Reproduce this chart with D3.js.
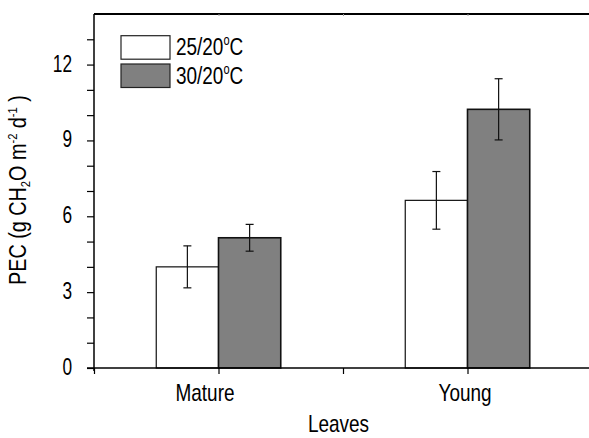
<!DOCTYPE html>
<html>
<head>
<meta charset="utf-8">
<script src="https://cdn.jsdelivr.net/npm/d3@7"></script>
<style>
  html, body { margin: 0; padding: 0; background: #fff; }
  svg { display: block; }
  text { font-family: "Liberation Sans", Arial, sans-serif; fill: #000; }
</style>
</head>
<body>
<svg id="chart" width="589" height="438"></svg>
<script>
// ---- data ----
const categories = ["Mature", "Young"];
const seriesNames = ["25/20", "30/20"];
const values25 = [4.0, 6.63];
const errors25 = [0.83, 1.14];
const values30 = [5.15, 10.23];
const errors30 = [0.53, 1.21];
const yTickLabels = [0, 3, 6, 9, 12];
const yMinorTicks = [0,1,2,3,4,5,6,7,8,9,10,11,12,13];
const xAxisLabel = "Leaves";

const seriesFill = ["#ffffff", "#808080"];

const svg = d3.select("#chart");
const W = 589, H = 438;
const SX = 0.79; // horizontal condensing of text

// condensed text helper
function ctext(parent, px, py, size, anchor, sx = SX, rot = 0) {
  const g = parent.append("g")
    .attr("transform", `translate(${px},${py})${rot ? ` rotate(${rot})` : ""} scale(${sx},1)`);
  return g.append("text").attr("font-size", size).attr("text-anchor", anchor);
}

const plotBottom = 368;
const x = d3.scaleLinear().domain([0, 4]).range([94, 592]);
const y = d3.scaleLinear().domain([0, 14]).range([plotBottom, 14]);
const catPos = [1, 3];
const barW = 0.5;

const series = [
  { name: seriesNames[0], vals: values25, errs: errors25, fill: seriesFill[0], off: -barW },
  { name: seriesNames[1], vals: values30, errs: errors30, fill: seriesFill[1], off: 0 }
];

// bars
series.forEach(s => {
  svg.append("g").selectAll("rect")
    .data(categories.map((c, i) => ({ c, i, v: s.vals[i], e: s.errs[i] })))
    .join("rect")
    .attr("x", d => x(catPos[d.i] + s.off))
    .attr("y", d => y(d.v))
    .attr("width", d => x(catPos[d.i] + s.off + barW) - x(catPos[d.i] + s.off))
    .attr("height", d => y(0) - y(d.v))
    .attr("fill", s.fill)
    .attr("stroke", "#111")
    .attr("stroke-width", s.fill === "#ffffff" ? 1.2 : 1.6);
});

// error bars
series.forEach(s => {
  const g = svg.append("g").attr("stroke", "#111").attr("stroke-width", 1.2);
  categories.forEach((c, i) => {
    const cx = x(catPos[i] + s.off + barW / 2);
    const top = y(s.vals[i] + s.errs[i]);
    const bot = y(s.vals[i] - s.errs[i]);
    g.append("line").attr("x1", cx).attr("x2", cx).attr("y1", top).attr("y2", bot);
    g.append("line").attr("x1", cx - 4).attr("x2", cx + 4).attr("y1", top).attr("y2", top);
    g.append("line").attr("x1", cx - 4).attr("x2", cx + 4).attr("y1", bot).attr("y2", bot);
  });
});

// y axis
const yAxis = d3.axisLeft(y).tickValues(yMinorTicks).tickSize(7).tickFormat("");
const gy = svg.append("g").attr("transform", `translate(${x(0)},0)`).call(yAxis);
gy.select(".domain").attr("stroke", "#000").attr("stroke-width", 1.5)
  .attr("d", `M0,${y(14)}V${y(0) + 3}`);
gy.selectAll(".tick line").attr("stroke", "#000").attr("stroke-width", 1.2);
yTickLabels.forEach(v => {
  ctext(svg, 72, y(v) + 7, 24, "end", 0.72).text(v);
});

// x axis
const xAxis = d3.axisBottom(x).tickValues([0, 1, 2, 3]).tickSize(6).tickFormat("");
const gx = svg.append("g").attr("transform", `translate(0,${y(0)})`).call(xAxis);
gx.select(".domain").attr("stroke", "#000").attr("stroke-width", 1.5)
  .attr("d", `M${x(0) - 7},0H${W}`);
gx.selectAll(".tick line").attr("stroke", "#000").attr("stroke-width", 1.2);

// category labels
const labelShift = [-13.5, -2.5];
categories.forEach((c, i) => {
  ctext(svg, x(catPos[i]) + labelShift[i], y(0) + 33, 24, "middle").text(c);
});

// top frame line
const xTop = d3.axisTop(x).tickValues([1, 2, 3]).tickSize(-2).tickFormat("");
const gt = svg.append("g").attr("transform", `translate(0,${y(14)})`).call(xTop);
gt.select(".domain").attr("stroke", "#000").attr("stroke-width", 1.8)
  .attr("d", `M${x(0)},0H${W}`);
gt.selectAll(".tick line").attr("stroke", "#999").attr("stroke-width", 1);

// x axis title
ctext(svg, 338.5, 432, 24, "middle").text(xAxisLabel);

// y axis title
const yt = ctext(svg, 26, 190, 23, "middle", 0.86, -90);
yt.append("tspan").text("PEC (g CH");
yt.append("tspan").attr("dy", 4).attr("font-size", 13).text("2");
yt.append("tspan").attr("dy", -4).text("O m");
yt.append("tspan").attr("dy", -9).attr("font-size", 13).text("-2");
yt.append("tspan").attr("dy", 9).text(" d");
yt.append("tspan").attr("dy", -9).attr("font-size", 13).text("-1");
yt.append("tspan").attr("dy", 9).text(" )");

// legend
const legend = svg.append("g");
series.forEach((s, i) => {
  const ly = 35.7 + i * 28.3;
  legend.append("rect")
    .attr("x", 121).attr("y", ly)
    .attr("width", 49).attr("height", 23.5)
    .attr("fill", s.fill).attr("stroke", "#222").attr("stroke-width", 1.2);
  const t = ctext(legend, 176, ly + 19.5, 24, "start");
  t.append("tspan").text(s.name);
  t.append("tspan").attr("dy", -10).attr("font-size", 14).text("o");
  t.append("tspan").attr("dy", 10).text("C");
});
</script>
</body>
</html>
